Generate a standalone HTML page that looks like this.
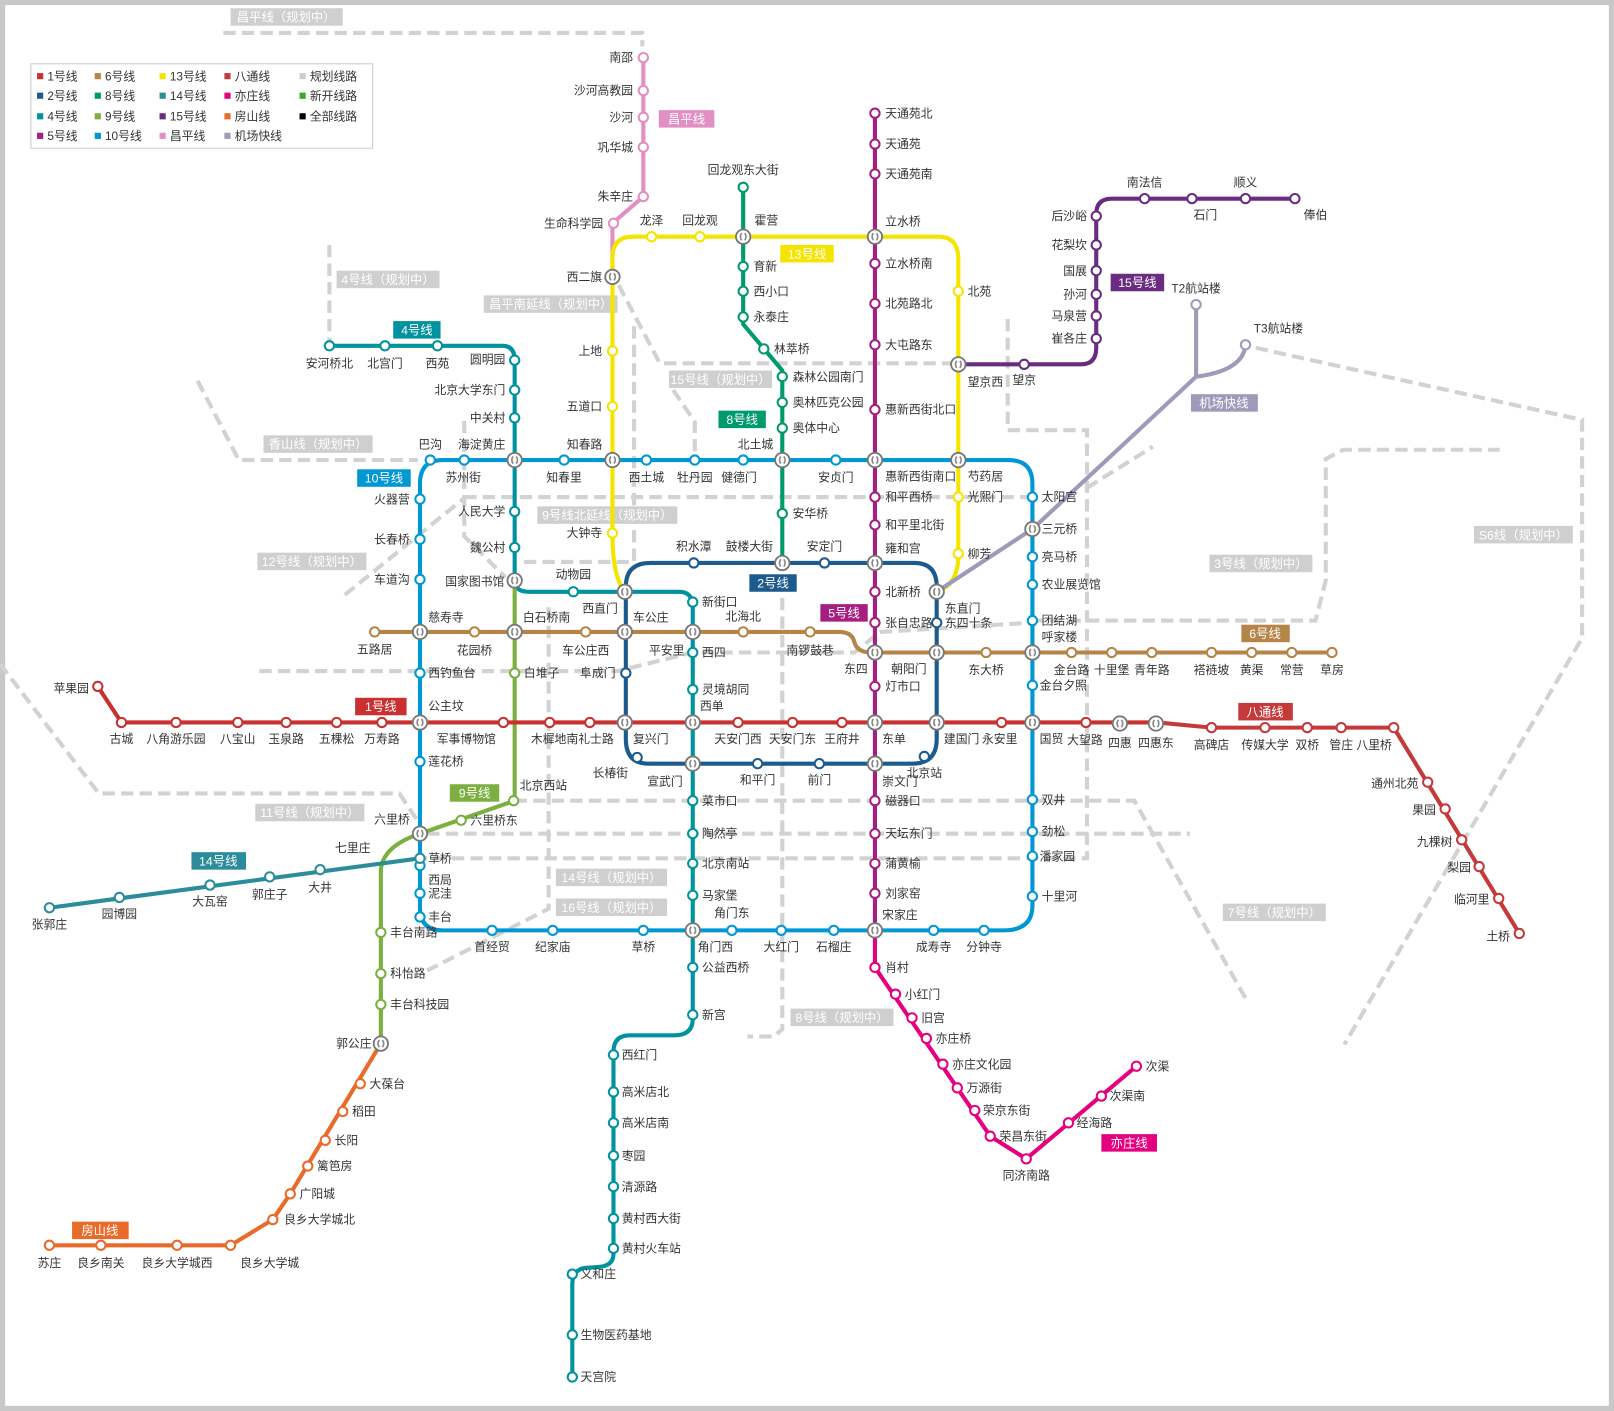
<!DOCTYPE html>
<html><head><meta charset="utf-8">
<style>
html,body{margin:0;padding:0;background:#fff;}
svg{display:block;}
text{font-family:"Liberation Sans","Noto Sans CJK SC",sans-serif;font-size:11.5px;fill:#333;}
.e{text-anchor:end;}
.m{text-anchor:middle;}
.bx{fill:#fff;font-size:12px;text-anchor:middle;}
.ln{fill:none;stroke-width:4;stroke-linecap:round;stroke-linejoin:round;}
.pl{fill:none;stroke:#d2d2d2;stroke-width:4;stroke-dasharray:12 6;}
</style></head>
<body>
<svg width="1614" height="1411" viewBox="0 0 1568 1371" preserveAspectRatio="none" xmlns="http://www.w3.org/2000/svg">
<defs>
<g id="x"><circle r="7" fill="#fff" stroke="#777" stroke-width="1.8"/><path d="M-1.5,-3.5 q-2.5,3.5 0,7 M1.5,-3.5 q2.5,3.5 0,7" stroke="#888" stroke-width="1.6" fill="none"/></g>
</defs>
<rect x="0" y="0" width="1568" height="1371" fill="#fff"/>
<rect x="2.5" y="2.5" width="1563" height="1366" fill="none" stroke="#c8c8c8" stroke-width="5"/>

<!-- planned dashed lines -->
<g class="pl">
<path d="M217,32 L624,32 L624,45"/>
<path d="M320,238 L320,333"/>
<path d="M192,370 L232,447 L406,447"/>
<path d="M601,277 L641,353 L925,353"/>
<path d="M654,379 L675,410 L675,447"/>
<path d="M616,317 L616,546 L509,546"/>
<path d="M451,409 L451,521 L491,561"/>
<path d="M451,483 L1002,483"/>
<path d="M335,578 L451,484"/>
<path d="M252,652 L600,652 L673,634 L830,634 L855,614 L1002,605"/>
<path d="M979,310 L979,418 L1056,418 L1056,834 L410,834"/>
<path d="M1056,474 L1120,434"/>
<path d="M1002,603 L1278,603 L1288,564 L1288,446 L1305,437 L1457,437"/>
<path d="M1220,338 L1537,408 L1537,620 L1306,1015"/>
<path d="M500,778 L1102,778 L1210,970"/>
<path d="M0,645 L96,771 L388,771 L406,798"/>
<path d="M415,810 L1156,810"/>
<path d="M533,590 L533,883 L415,943"/>
<path d="M760,563 L760,1000 L752,1007 L726,1007"/>
</g>

<!-- grey planned labels -->
<g fill="#cfcfcf">
<rect x="224" y="8" width="109" height="17"/>
<rect x="327" y="263" width="100" height="17"/>
<rect x="470" y="287" width="130" height="17"/>
<rect x="650" y="360" width="100" height="17"/>
<rect x="256" y="423" width="106" height="17"/>
<rect x="522" y="492" width="136" height="17"/>
<rect x="250" y="537" width="106" height="17"/>
<rect x="1175" y="539" width="100" height="17"/>
<rect x="1432" y="511" width="96" height="17"/>
<rect x="248" y="781" width="106" height="17"/>
<rect x="540" y="844" width="108" height="17"/>
<rect x="540" y="873" width="108" height="17"/>
<rect x="1188" y="878" width="100" height="17"/>
<rect x="768" y="980" width="100" height="17"/>
</g>
<g class="bx">
<text x="278" y="21" class="bx">昌平线（规划中）</text>
<text x="377" y="276" class="bx">4号线（规划中）</text>
<text x="535" y="300" class="bx">昌平南延线（规划中）</text>
<text x="700" y="373" class="bx">15号线（规划中）</text>
<text x="309" y="436" class="bx">香山线（规划中）</text>
<text x="590" y="505" class="bx">9号线北延线（规划中）</text>
<text x="303" y="550" class="bx">12号线（规划中）</text>
<text x="1225" y="552" class="bx">3号线（规划中）</text>
<text x="1480" y="524" class="bx">S6线（规划中）</text>
<text x="301" y="794" class="bx">11号线（规划中）</text>
<text x="594" y="857" class="bx">14号线（规划中）</text>
<text x="594" y="886" class="bx">16号线（规划中）</text>
<text x="1238" y="891" class="bx">7号线（规划中）</text>
<text x="818" y="993" class="bx">8号线（规划中）</text>
</g>

<!-- legend -->
<rect x="30" y="62" width="332" height="82" fill="#fff" stroke="#ccc" stroke-width="1"/>
<g>
<rect x="36" y="71" width="6" height="6" fill="#c8312f"/><text x="46" y="78">1号线</text>
<rect x="36" y="90" width="6" height="6" fill="#1d5b8e"/><text x="46" y="97">2号线</text>
<rect x="36" y="110" width="6" height="6" fill="#00939f"/><text x="46" y="117">4号线</text>
<rect x="36" y="129" width="6" height="6" fill="#a61f80"/><text x="46" y="136">5号线</text>
<rect x="92" y="71" width="6" height="6" fill="#b58547"/><text x="102" y="78">6号线</text>
<rect x="92" y="90" width="6" height="6" fill="#009b6d"/><text x="102" y="97">8号线</text>
<rect x="92" y="110" width="6" height="6" fill="#7bb040"/><text x="102" y="117">9号线</text>
<rect x="92" y="129" width="6" height="6" fill="#0097d3"/><text x="102" y="136">10号线</text>
<rect x="155" y="71" width="6" height="6" fill="#f4e400"/><text x="165" y="78">13号线</text>
<rect x="155" y="90" width="6" height="6" fill="#2b8c9c"/><text x="165" y="97">14号线</text>
<rect x="155" y="110" width="6" height="6" fill="#6a2c82"/><text x="165" y="117">15号线</text>
<rect x="155" y="129" width="6" height="6" fill="#e28fc4"/><text x="165" y="136">昌平线</text>
<rect x="218" y="71" width="6" height="6" fill="#c43a3a"/><text x="228" y="78">八通线</text>
<rect x="218" y="90" width="6" height="6" fill="#e4007f"/><text x="228" y="97">亦庄线</text>
<rect x="218" y="110" width="6" height="6" fill="#e86b2b"/><text x="228" y="117">房山线</text>
<rect x="218" y="129" width="6" height="6" fill="#9e9bba"/><text x="228" y="136">机场快线</text>
<rect x="291" y="71" width="6" height="6" fill="#ccc"/><text x="301" y="78">规划线路</text>
<rect x="291" y="90" width="6" height="6" fill="#3aa82a"/><text x="301" y="97">新开线路</text>
<rect x="291" y="110" width="6" height="6" fill="#000"/><text x="301" y="117">全部线路</text>
</g>

<!-- lines -->
<path class="ln" stroke="#e28fc4" d="M595,268 L595,217 L625,191 L625,56"/>
<path class="ln" stroke="#0097d3" d="M430,447 L980,447 Q1003,447 1003,470 L1003,880 Q1003,904 975,904 L430,904 Q408,904 408,882 L408,470 Q408,447 430,447 Z"/>
<path class="ln" stroke="#1d5b8e" d="M632,547 L888,547 Q910,547 910,570 L910,718 Q910,742 886,742 L630,742 Q608,742 608,718 L608,570 Q608,547 632,547 Z"/>
<path class="ln" stroke="#f4e400" d="M607,575 Q595,560 595,520 L595,250 Q595,230 615,230 L912,230 Q931,230 931,252 L931,540 Q931,568 910,575"/>
<path class="ln" stroke="#00939f" d="M320,336 L488,336 Q500,336 500,350 L500,564 Q500,575 514,575 L660,575 Q673,575 673,590 L673,990 Q673,1006 655,1006 L612,1006 Q596,1006 596,1022 L596,1218 Q596,1230 582,1231 L568,1232 Q556,1234 556,1248 L556,1338"/>
<path class="ln" stroke="#b58547" d="M364,614 L815,614 Q828,614 830,624 Q833,634 846,634 L1294,634"/>
<path class="ln" stroke="#009b6d" d="M722,182 L722,315 L760,360 L760,547"/>
<path class="ln" stroke="#7bb040" d="M500,564 L500,778 L408,810 Q372,822 370,845 L370,1014"/>
<path class="ln" stroke="#2b8c9c" d="M48,882 L408,834"/>
<path class="ln" stroke="#c8312f" d="M95,667 L118,702 L1124,702"/>
<path class="ln" stroke="#c43a3a" d="M1124,702 L1177,707 L1354,707 L1476,907"/>
<path class="ln" stroke="#a61f80" d="M850,110 L850,904"/>
<path class="ln" stroke="#e4007f" d="M850,904 L850,940 L962,1104 L997,1126 L1104,1036"/>
<path class="ln" stroke="#6a2c82" d="M931,354 L1050,354 Q1065,354 1065,338 L1065,208 Q1065,193 1080,193 L1258,193"/>
<path class="ln" stroke="#9e9bba" d="M910,575 L1003,514 L1162,366 L1162,296 M1162,366 Q1208,360 1210,335"/>
<path class="ln" stroke="#e86b2b" d="M370,1014 L282,1160 L265,1185 L224,1210 L48,1210"/>

<!-- stations -->
<g fill="#fff" stroke-width="2">
<g stroke="#e28fc4"><circle cx="625" cy="56" r="4.5"/><circle cx="625" cy="88" r="4.5"/><circle cx="625" cy="114" r="4.5"/><circle cx="625" cy="143" r="4.5"/><circle cx="625" cy="191" r="4.5"/><circle cx="596" cy="217" r="4.5"/></g>
<g stroke="#f4e400"><circle cx="633" cy="230" r="4.5"/><circle cx="680" cy="230" r="4.5"/><circle cx="595" cy="341" r="4.5"/><circle cx="595" cy="395" r="4.5"/><circle cx="595" cy="518" r="4.5"/><circle cx="931" cy="283" r="4.5"/><circle cx="931" cy="483" r="4.5"/><circle cx="931" cy="538" r="4.5"/></g>
<g stroke="#009b6d"><circle cx="722" cy="182" r="4.5"/><circle cx="722" cy="259" r="4.5"/><circle cx="722" cy="283" r="4.5"/><circle cx="722" cy="308" r="4.5"/><circle cx="742" cy="339" r="4.5"/><circle cx="760" cy="366" r="4.5"/><circle cx="760" cy="391" r="4.5"/><circle cx="760" cy="416" r="4.5"/><circle cx="760" cy="499" r="4.5"/></g>
<g stroke="#a61f80"><circle cx="850" cy="110" r="4.5"/><circle cx="850" cy="140" r="4.5"/><circle cx="850" cy="169" r="4.5"/><circle cx="850" cy="256" r="4.5"/><circle cx="850" cy="295" r="4.5"/><circle cx="850" cy="335" r="4.5"/><circle cx="850" cy="398" r="4.5"/><circle cx="850" cy="483" r="4.5"/><circle cx="850" cy="510" r="4.5"/><circle cx="850" cy="575" r="4.5"/><circle cx="850" cy="605" r="4.5"/><circle cx="850" cy="667" r="4.5"/><circle cx="850" cy="778" r="4.5"/><circle cx="850" cy="810" r="4.5"/><circle cx="850" cy="839" r="4.5"/><circle cx="850" cy="868" r="4.5"/></g>
<g stroke="#e4007f"><circle cx="850" cy="940" r="4.5"/><circle cx="870" cy="966" r="4.5"/><circle cx="886" cy="989" r="4.5"/><circle cx="900" cy="1009" r="4.5"/><circle cx="916" cy="1034" r="4.5"/><circle cx="930" cy="1057" r="4.5"/><circle cx="947" cy="1079" r="4.5"/><circle cx="962" cy="1104" r="4.5"/><circle cx="997" cy="1126" r="4.5"/><circle cx="1038" cy="1091" r="4.5"/><circle cx="1070" cy="1065" r="4.5"/><circle cx="1104" cy="1036" r="4.5"/></g>
<g stroke="#6a2c82"><circle cx="995" cy="354" r="4.5"/><circle cx="1065" cy="329" r="4.5"/><circle cx="1065" cy="307" r="4.5"/><circle cx="1065" cy="286" r="4.5"/><circle cx="1065" cy="263" r="4.5"/><circle cx="1065" cy="238" r="4.5"/><circle cx="1065" cy="210" r="4.5"/><circle cx="1112" cy="193" r="4.5"/><circle cx="1158" cy="193" r="4.5"/><circle cx="1210" cy="193" r="4.5"/><circle cx="1258" cy="193" r="4.5"/></g>
<g stroke="#9e9bba"><circle cx="1162" cy="296" r="4.5"/><circle cx="1210" cy="335" r="4.5"/></g>
<g stroke="#00939f"><circle cx="320" cy="336" r="4.5"/><circle cx="374" cy="336" r="4.5"/><circle cx="425" cy="336" r="4.5"/><circle cx="500" cy="350" r="4.5"/><circle cx="500" cy="379" r="4.5"/><circle cx="500" cy="406" r="4.5"/><circle cx="500" cy="497" r="4.5"/><circle cx="500" cy="532" r="4.5"/><circle cx="557" cy="575" r="4.5"/><circle cx="673" cy="585" r="4.5"/><circle cx="673" cy="634" r="4.5"/><circle cx="673" cy="670" r="4.5"/><circle cx="673" cy="778" r="4.5"/><circle cx="673" cy="810" r="4.5"/><circle cx="673" cy="839" r="4.5"/><circle cx="673" cy="870" r="4.5"/><circle cx="673" cy="940" r="4.5"/><circle cx="673" cy="986" r="4.5"/><circle cx="596" cy="1025" r="4.5"/><circle cx="596" cy="1061" r="4.5"/><circle cx="596" cy="1091" r="4.5"/><circle cx="596" cy="1123" r="4.5"/><circle cx="596" cy="1153" r="4.5"/><circle cx="596" cy="1184" r="4.5"/><circle cx="596" cy="1213" r="4.5"/><circle cx="556" cy="1238" r="4.5"/><circle cx="556" cy="1297" r="4.5"/><circle cx="556" cy="1338" r="4.5"/></g>
<g stroke="#1d5b8e"><circle cx="674" cy="547" r="4.5"/><circle cx="801" cy="547" r="4.5"/><circle cx="910" cy="605" r="4.5"/><circle cx="898" cy="735" r="4.5"/><circle cx="796" cy="742" r="4.5"/><circle cx="736" cy="742" r="4.5"/><circle cx="619" cy="736" r="4.5"/><circle cx="608" cy="654" r="4.5"/></g>
<g stroke="#b58547"><circle cx="364" cy="614" r="4.5"/><circle cx="461" cy="614" r="4.5"/><circle cx="569" cy="614" r="4.5"/><circle cx="722" cy="614" r="4.5"/><circle cx="787" cy="614" r="4.5"/><circle cx="958" cy="634" r="4.5"/><circle cx="1041" cy="634" r="4.5"/><circle cx="1080" cy="634" r="4.5"/><circle cx="1119" cy="634" r="4.5"/><circle cx="1177" cy="634" r="4.5"/><circle cx="1216" cy="634" r="4.5"/><circle cx="1255" cy="634" r="4.5"/><circle cx="1294" cy="634" r="4.5"/></g>
<g stroke="#0097d3"><circle cx="418" cy="447" r="4.5"/><circle cx="451" cy="447" r="4.5"/><circle cx="548" cy="447" r="4.5"/><circle cx="628" cy="447" r="4.5"/><circle cx="675" cy="447" r="4.5"/><circle cx="722" cy="447" r="4.5"/><circle cx="812" cy="447" r="4.5"/><circle cx="1003" cy="483" r="4.5"/><circle cx="1003" cy="541" r="4.5"/><circle cx="1003" cy="568" r="4.5"/><circle cx="1003" cy="603" r="4.5"/><circle cx="1003" cy="666" r="4.5"/><circle cx="1003" cy="777" r="4.5"/><circle cx="1003" cy="808" r="4.5"/><circle cx="1003" cy="832" r="4.5"/><circle cx="1003" cy="871" r="4.5"/><circle cx="956" cy="904" r="4.5"/><circle cx="907" cy="904" r="4.5"/><circle cx="810" cy="904" r="4.5"/><circle cx="759" cy="904" r="4.5"/><circle cx="711" cy="904" r="4.5"/><circle cx="625" cy="904" r="4.5"/><circle cx="537" cy="904" r="4.5"/><circle cx="478" cy="904" r="4.5"/><circle cx="408" cy="891" r="4.5"/><circle cx="408" cy="868" r="4.5"/><circle cx="408" cy="841" r="4.5"/><circle cx="408" cy="740" r="4.5"/><circle cx="408" cy="654" r="4.5"/><circle cx="408" cy="563" r="4.5"/><circle cx="408" cy="524" r="4.5"/><circle cx="408" cy="485" r="4.5"/></g>
<g stroke="#7bb040"><circle cx="500" cy="654" r="4.5"/><circle cx="499" cy="778" r="4.5"/><circle cx="448" cy="797" r="4.5"/><circle cx="370" cy="906" r="4.5"/><circle cx="370" cy="946" r="4.5"/><circle cx="370" cy="976" r="4.5"/></g>
<g stroke="#2b8c9c"><circle cx="48" cy="882" r="4.5"/><circle cx="116" cy="872" r="4.5"/><circle cx="204" cy="860" r="4.5"/><circle cx="262" cy="852" r="4.5"/><circle cx="311" cy="845" r="4.5"/><circle cx="408" cy="834" r="4.5"/></g>
<g stroke="#c8312f"><circle cx="95" cy="667" r="4.5"/><circle cx="118" cy="702" r="4.5"/><circle cx="171" cy="702" r="4.5"/><circle cx="231" cy="702" r="4.5"/><circle cx="278" cy="702" r="4.5"/><circle cx="327" cy="702" r="4.5"/><circle cx="371" cy="702" r="4.5"/><circle cx="489" cy="702" r="4.5"/><circle cx="534" cy="702" r="4.5"/><circle cx="573" cy="702" r="4.5"/><circle cx="717" cy="702" r="4.5"/><circle cx="770" cy="702" r="4.5"/><circle cx="818" cy="702" r="4.5"/><circle cx="973" cy="702" r="4.5"/><circle cx="1055" cy="702" r="4.5"/></g>
<g stroke="#c43a3a"><circle cx="1177" cy="707" r="4.5"/><circle cx="1229" cy="707" r="4.5"/><circle cx="1270" cy="707" r="4.5"/><circle cx="1303" cy="707" r="4.5"/><circle cx="1354" cy="707" r="4.5"/><circle cx="1387" cy="760" r="4.5"/><circle cx="1404" cy="786" r="4.5"/><circle cx="1420" cy="816" r="4.5"/><circle cx="1437" cy="842" r="4.5"/><circle cx="1456" cy="873" r="4.5"/><circle cx="1476" cy="907" r="4.5"/></g>
<g stroke="#e86b2b"><circle cx="350" cy="1053" r="4.5"/><circle cx="333" cy="1080" r="4.5"/><circle cx="316" cy="1108" r="4.5"/><circle cx="299" cy="1133" r="4.5"/><circle cx="282" cy="1160" r="4.5"/><circle cx="265" cy="1185" r="4.5"/><circle cx="224" cy="1210" r="4.5"/><circle cx="172" cy="1210" r="4.5"/><circle cx="98" cy="1210" r="4.5"/><circle cx="48" cy="1210" r="4.5"/></g>
</g>

<!-- interchanges -->
<use href="#x" x="408" y="702"/><use href="#x" x="607" y="702"/><use href="#x" x="673" y="702"/><use href="#x" x="850" y="702"/><use href="#x" x="910" y="702"/><use href="#x" x="1003" y="702"/><use href="#x" x="1088" y="703"/><use href="#x" x="1123" y="703"/>
<use href="#x" x="607" y="575"/><use href="#x" x="607" y="614"/><use href="#x" x="673" y="614"/><use href="#x" x="673" y="742"/><use href="#x" x="850" y="742"/><use href="#x" x="850" y="547"/><use href="#x" x="910" y="575"/><use href="#x" x="910" y="634"/><use href="#x" x="850" y="634"/><use href="#x" x="760" y="547"/>
<use href="#x" x="408" y="614"/><use href="#x" x="500" y="614"/><use href="#x" x="500" y="564"/><use href="#x" x="500" y="447"/><use href="#x" x="595" y="447"/><use href="#x" x="760" y="447"/><use href="#x" x="850" y="447"/><use href="#x" x="931" y="447"/><use href="#x" x="850" y="230"/><use href="#x" x="722" y="230"/><use href="#x" x="595" y="269"/><use href="#x" x="931" y="354"/><use href="#x" x="1003" y="514"/><use href="#x" x="1003" y="634"/><use href="#x" x="408" y="810"/><use href="#x" x="673" y="904"/><use href="#x" x="850" y="904"/><use href="#x" x="370" y="1014"/>

<!-- line labels -->
<g>
<rect x="640" y="107" width="54" height="17" fill="#e28fc4"/><text x="667" y="120" class="bx">昌平线</text>
<rect x="758" y="238" width="52" height="17" fill="#f4e400"/><text x="784" y="251" class="bx">13号线</text>
<rect x="1079" y="266" width="52" height="17" fill="#6a2c82"/><text x="1105" y="279" class="bx">15号线</text>
<rect x="382" y="312" width="46" height="17" fill="#00939f"/><text x="405" y="325" class="bx">4号线</text>
<rect x="698" y="399" width="46" height="17" fill="#009b6d"/><text x="721" y="412" class="bx">8号线</text>
<rect x="1157" y="383" width="65" height="17" fill="#9e9bba"/><text x="1189" y="396" class="bx">机场快线</text>
<rect x="347" y="456" width="52" height="17" fill="#0097d3"/><text x="373" y="469" class="bx">10号线</text>
<rect x="728" y="558" width="46" height="17" fill="#1d5b8e"/><text x="751" y="571" class="bx">2号线</text>
<rect x="797" y="587" width="46" height="17" fill="#a61f80"/><text x="820" y="600" class="bx">5号线</text>
<rect x="1206" y="607" width="47" height="17" fill="#b58547"/><text x="1229" y="620" class="bx">6号线</text>
<rect x="345" y="678" width="50" height="17" fill="#c8312f"/><text x="370" y="691" class="bx">1号线</text>
<rect x="1203" y="683" width="53" height="17" fill="#c43a3a"/><text x="1229" y="696" class="bx">八通线</text>
<rect x="437" y="762" width="48" height="17" fill="#7bb040"/><text x="461" y="775" class="bx">9号线</text>
<rect x="186" y="828" width="53" height="17" fill="#2b8c9c"/><text x="212" y="841" class="bx">14号线</text>
<rect x="1070" y="1102" width="54" height="17" fill="#e4007f"/><text x="1097" y="1115" class="bx">亦庄线</text>
<rect x="70" y="1187" width="55" height="17" fill="#e86b2b"/><text x="97" y="1200" class="bx">房山线</text>
</g>

<!-- station labels -->
<g>
<!-- changping -->
<text x="615" y="60" class="e">南邵</text><text x="615" y="92" class="e">沙河高教园</text><text x="615" y="118" class="e">沙河</text><text x="615" y="147" class="e">巩华城</text><text x="615" y="195" class="e">朱辛庄</text><text x="586" y="221" class="e">生命科学园</text><text x="585" y="273" class="e">西二旗</text>
<!-- 13 -->
<text x="633" y="218" class="m">龙泽</text><text x="680" y="218" class="m">回龙观</text><text x="733" y="218">霍营</text><text x="585" y="345" class="e">上地</text><text x="585" y="399" class="e">五道口</text><text x="585" y="522" class="e">大钟寺</text><text x="940" y="287">北苑</text><text x="940" y="375">望京西</text><text x="940" y="487">光熙门</text><text x="940" y="542">柳芳</text><text x="940" y="467">芍药居</text>
<!-- 8 -->
<text x="722" y="169" class="m">回龙观东大街</text><text x="732" y="263">育新</text><text x="732" y="287">西小口</text><text x="732" y="312">永泰庄</text><text x="752" y="343">林萃桥</text><text x="770" y="370">森林公园南门</text><text x="770" y="395">奥林匹克公园</text><text x="770" y="420">奥体中心</text><text x="770" y="503">安华桥</text><text x="734" y="436" class="m">北土城</text>
<!-- 5 -->
<text x="860" y="114">天通苑北</text><text x="860" y="144">天通苑</text><text x="860" y="173">天通苑南</text><text x="860" y="219">立水桥</text><text x="860" y="260">立水桥南</text><text x="860" y="299">北苑路北</text><text x="860" y="339">大屯路东</text><text x="860" y="402">惠新西街北口</text><text x="860" y="467">惠新西街南口</text><text x="860" y="487">和平西桥</text><text x="860" y="514">和平里北街</text><text x="860" y="537">雍和宫</text><text x="860" y="579">北新桥</text><text x="860" y="609">张自忠路</text><text x="843" y="654" class="e">东四</text><text x="860" y="671">灯市口</text><text x="857" y="722">东单</text><text x="857" y="763">崇文门</text><text x="860" y="782">磁器口</text><text x="860" y="814">天坛东门</text><text x="860" y="843">蒲黄榆</text><text x="860" y="872">刘家窑</text><text x="857" y="893">宋家庄</text><text x="860" y="944">肖村</text>
<!-- yizhuang -->
<text x="879" y="970">小红门</text><text x="895" y="993">旧宫</text><text x="909" y="1013">亦庄桥</text><text x="925" y="1038">亦庄文化园</text><text x="939" y="1061">万源街</text><text x="955" y="1083">荣京东街</text><text x="971" y="1108">荣昌东街</text><text x="997" y="1146" class="m">同济南路</text><text x="1046" y="1095">经海路</text><text x="1078" y="1069">次渠南</text><text x="1113" y="1040">次渠</text>
<!-- 15 -->
<text x="995" y="373" class="m">望京</text><text x="1056" y="333" class="e">崔各庄</text><text x="1056" y="311" class="e">马泉营</text><text x="1056" y="290" class="e">孙河</text><text x="1056" y="267" class="e">国展</text><text x="1056" y="242" class="e">花梨坎</text><text x="1056" y="214" class="e">后沙峪</text><text x="1112" y="181" class="m">南法信</text><text x="1171" y="213" class="m">石门</text><text x="1210" y="181" class="m">顺义</text><text x="1278" y="213" class="m">俸伯</text>
<text x="1162" y="284" class="m">T2航站楼</text><text x="1242" y="323" class="m">T3航站楼</text>
<!-- 10 top -->
<text x="418" y="436" class="m">巴沟</text><text x="468" y="436" class="m">海淀黄庄</text><text x="450" y="468" class="m">苏州街</text><text x="548" y="468" class="m">知春里</text><text x="568" y="436" class="m">知春路</text><text x="628" y="468" class="m">西土城</text><text x="675" y="468" class="m">牡丹园</text><text x="718" y="468" class="m">健德门</text><text x="812" y="468" class="m">安贞门</text>
<text x="398" y="489" class="e">火器营</text><text x="398" y="528" class="e">长春桥</text><text x="398" y="567" class="e">车道沟</text><text x="416" y="604">慈寿寺</text><text x="416" y="658">西钓鱼台</text><text x="416" y="744">莲花桥</text><text x="398" y="800" class="e">六里桥</text><text x="416" y="838">草桥</text><text x="416" y="859">西局</text><text x="416" y="872">泥洼</text><text x="416" y="895">丰台</text>
<text x="478" y="924" class="m">首经贸</text><text x="537" y="924" class="m">纪家庙</text><text x="625" y="924" class="m">草桥</text><text x="695" y="924" class="m">角门西</text><text x="711" y="891" class="m">角门东</text><text x="759" y="924" class="m">大红门</text><text x="810" y="924" class="m">石榴庄</text><text x="907" y="924" class="m">成寿寺</text><text x="956" y="924" class="m">分钟寺</text>
<text x="1012" y="487">太阳宫</text><text x="1012" y="518">三元桥</text><text x="1012" y="545">亮马桥</text><text x="1012" y="572">农业展览馆</text><text x="1012" y="607">团结湖</text><text x="1012" y="623">呼家楼</text><text x="1010" y="670">金台夕照</text><text x="1012" y="781">双井</text><text x="1012" y="812">劲松</text><text x="1010" y="836">潘家园</text><text x="1012" y="875">十里河</text>
<!-- 4 -->
<text x="320" y="357" class="m">安河桥北</text><text x="374" y="357" class="m">北宫门</text><text x="425" y="357" class="m">西苑</text><text x="491" y="353" class="e">圆明园</text><text x="491" y="383" class="e">北京大学东门</text><text x="491" y="410" class="e">中关村</text><text x="491" y="501" class="e">人民大学</text><text x="491" y="536" class="e">魏公村</text><text x="490" y="569" class="e">国家图书馆</text><text x="557" y="562" class="m">动物园</text><text x="583" y="595" class="m">西直门</text><text x="682" y="589">新街口</text><text x="665" y="636" class="e">平安里</text><text x="682" y="638">西四</text><text x="682" y="674">灵境胡同</text><text x="680" y="690">西单</text><text x="682" y="782">菜市口</text><text x="682" y="814">陶然亭</text><text x="682" y="843">北京南站</text><text x="682" y="874">马家堡</text><text x="682" y="944">公益西桥</text><text x="682" y="990">新宫</text>
<text x="604" y="1029">西红门</text><text x="604" y="1065">高米店北</text><text x="604" y="1095">高米店南</text><text x="604" y="1127">枣园</text><text x="604" y="1157">清源路</text><text x="604" y="1188">黄村西大街</text><text x="604" y="1217">黄村火车站</text><text x="564" y="1242">义和庄</text><text x="564" y="1301">生物医药基地</text><text x="564" y="1342">天宫院</text>
<!-- 2 -->
<text x="674" y="535" class="m">积水潭</text><text x="728" y="535" class="m">鼓楼大街</text><text x="801" y="535" class="m">安定门</text><text x="918" y="595">东直门</text><text x="918" y="609">东四十条</text><text x="883" y="654" class="m">朝阳门</text><text x="898" y="755" class="m">北京站</text><text x="796" y="762" class="m">前门</text><text x="736" y="762" class="m">和平门</text><text x="646" y="763" class="m">宣武门</text><text x="593" y="755" class="m">长椿街</text><text x="598" y="658" class="e">阜成门</text><text x="615" y="604">车公庄</text><text x="615" y="722">复兴门</text>
<!-- 6 -->
<text x="364" y="635" class="m">五路居</text><text x="461" y="636" class="m">花园桥</text><text x="531" y="604" class="m">白石桥南</text><text x="569" y="636" class="m">车公庄西</text><text x="722" y="603" class="m">北海北</text><text x="787" y="636" class="m">南锣鼓巷</text><text x="958" y="655" class="m">东大桥</text><text x="1041" y="655" class="m">金台路</text><text x="1080" y="655" class="m">十里堡</text><text x="1119" y="655" class="m">青年路</text><text x="1177" y="655" class="m">褡裢坡</text><text x="1216" y="655" class="m">黄渠</text><text x="1255" y="655" class="m">常营</text><text x="1294" y="655" class="m">草房</text>
<!-- 9 -->
<text x="509" y="658">白堆子</text><text x="505" y="767">北京西站</text><text x="457" y="801">六里桥东</text><text x="360" y="828" class="e">七里庄</text><text x="379" y="910">丰台南路</text><text x="379" y="950">科怡路</text><text x="379" y="980">丰台科技园</text><text x="361" y="1018" class="e">郭公庄</text>
<!-- 14 -->
<text x="48" y="902" class="m">张郭庄</text><text x="116" y="892" class="m">园博园</text><text x="204" y="880" class="m">大瓦窑</text><text x="262" y="873" class="m">郭庄子</text><text x="311" y="866" class="m">大井</text>
<!-- 1 -->
<text x="52" y="673">苹果园</text><text x="118" y="722" class="m">古城</text><text x="171" y="722" class="m">八角游乐园</text><text x="231" y="722" class="m">八宝山</text><text x="278" y="722" class="m">玉泉路</text><text x="327" y="722" class="m">五棵松</text><text x="371" y="722" class="m">万寿路</text><text x="416" y="690">公主坟</text><text x="453" y="722" class="m">军事博物馆</text><text x="556" y="722" class="m">木樨地南礼士路</text><text x="717" y="722" class="m">天安门西</text><text x="770" y="722" class="m">天安门东</text><text x="818" y="722" class="m">王府井</text><text x="917" y="722">建国门</text><text x="954" y="722">永安里</text><text x="1010" y="722">国贸</text><text x="1054" y="723" class="m">大望路</text><text x="1088" y="726" class="m">四惠</text><text x="1123" y="726" class="m">四惠东</text>
<text x="1177" y="728" class="m">高碑店</text><text x="1229" y="728" class="m">传媒大学</text><text x="1270" y="728" class="m">双桥</text><text x="1303" y="728" class="m">管庄</text><text x="1335" y="728" class="m">八里桥</text>
<text x="1378" y="765" class="e">通州北苑</text><text x="1395" y="791" class="e">果园</text><text x="1411" y="822" class="e">九棵树</text><text x="1429" y="847" class="e">梨园</text><text x="1447" y="878" class="e">临河里</text><text x="1467" y="914" class="e">土桥</text>
<!-- fangshan -->
<text x="359" y="1057">大葆台</text><text x="342" y="1084">稻田</text><text x="325" y="1112">长阳</text><text x="308" y="1137">篱笆房</text><text x="291" y="1164">广阳城</text><text x="276" y="1189">良乡大学城北</text><text x="262" y="1231" class="m">良乡大学城</text><text x="172" y="1231" class="m">良乡大学城西</text><text x="98" y="1231" class="m">良乡南关</text><text x="48" y="1231" class="m">苏庄</text>
</g>
</svg>
</body></html>
